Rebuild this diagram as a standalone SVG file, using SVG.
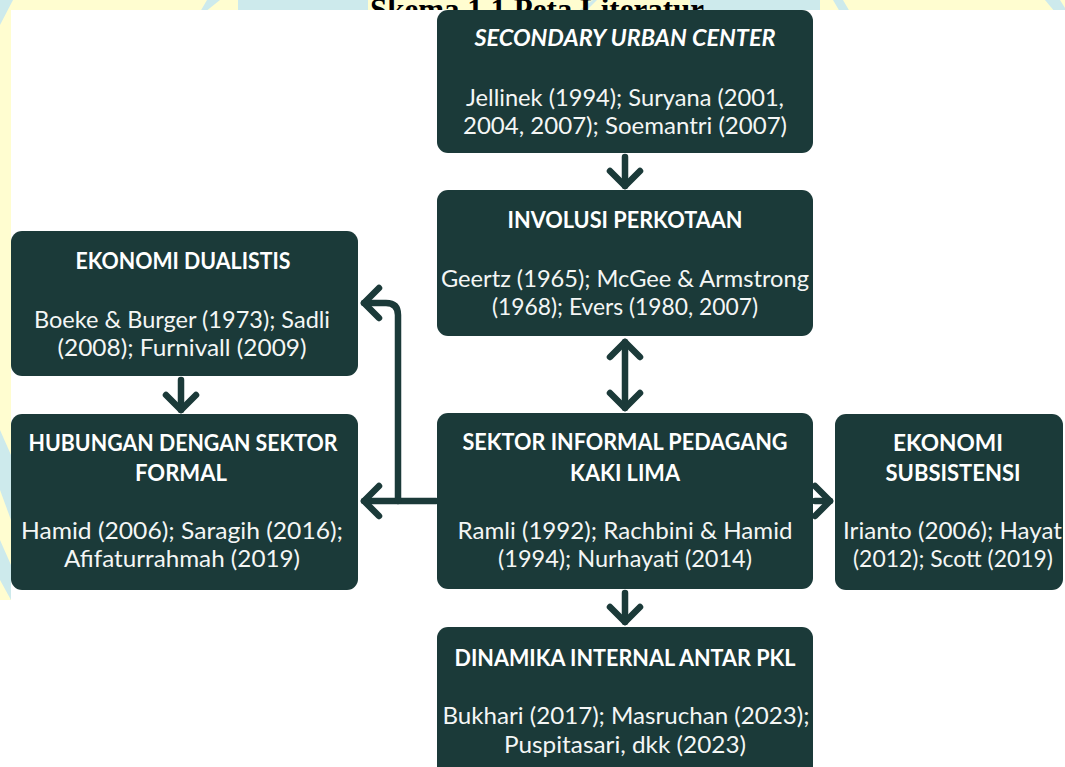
<svg xmlns="http://www.w3.org/2000/svg" width="1065" height="767" viewBox="0 0 1065 767">
  <defs>
    <style>
      .node { fill: #1b3a39; }
      .title { font-family: Lato, Roboto, sans-serif; font-weight: 700; font-size: 22px; fill: #ffffff; text-anchor: middle; }
      .body { font-family: Lato, Roboto, sans-serif; font-weight: 400; font-size: 23px; fill: #f4f6f5; text-anchor: middle; }
      .conn { fill: none; stroke: #1b3a39; stroke-width: 6.5; stroke-linecap: round; stroke-linejoin: round; }
      .yel { fill: #fffdd0; }
      .cy { fill: #cdeaec; }
    </style>
    <marker id="chev" viewBox="-5 -5 25 40" markerWidth="25" markerHeight="40" refX="15" refY="15" markerUnits="userSpaceOnUse" orient="auto-start-reverse">
      <path d="M0,0 L15,15 L0,30" fill="none" stroke="#1b3a39" stroke-width="6.5" stroke-linecap="round" stroke-linejoin="round"/>
    </marker>
    <clipPath id="topclip">
      <rect x="0" y="0" width="1065" height="10"/>
    </clipPath>
  </defs>

  <!-- background page -->
  <rect x="0" y="0" width="1065" height="767" class="yel"/>
  <polygon class="cy" points="0,0 13,0 0,25"/>
  <polygon class="cy" points="207,0 220,0 205,12 200,12"/>
  <polygon class="cy" points="238,0 820,0 820,12 238,12"/>
  <polygon class="yel" points="368,0 690,0 690,12 368,12"/>
  <polygon class="cy" points="577,12 593,0 597,0 585,12"/>
  <polygon class="cy" points="833,0 843,0 850,12 840,12"/>
  <polygon class="cy" points="1045,0 1060,0 1065,8 1065,12 1055,12"/>
  <polygon class="cy" points="0,430 11,455 11,520 0,490"/>
  <polygon class="cy" points="0,540 11,565 11,600 0,580"/>
  <rect x="11" y="10" width="1054" height="757" fill="#ffffff"/>
  <rect x="0" y="600" width="11" height="167" fill="#ffffff"/>

  <text x="537" y="20" clip-path="url(#topclip)" font-family="'Liberation Serif', 'Times New Roman', serif" font-weight="700" font-size="31" fill="#000000" text-anchor="middle">Skema 1.1 Peta Literatur</text>

  <!-- connectors -->
  <g id="connectors">
    <path class="conn" d="M625,157 V186" marker-end="url(#chev)"/>
    <path class="conn" d="M625,342 V408" marker-start="url(#chev)" marker-end="url(#chev)"/>
    <path class="conn" d="M625,593 V622" marker-end="url(#chev)"/>
    <path class="conn" d="M181,380 V410" marker-end="url(#chev)"/>
    <path class="conn" d="M815,501 H830" marker-end="url(#chev)"/>
    <path class="conn" d="M436,501 H364" marker-end="url(#chev)"/>
    <path class="conn" d="M398,501 V315 Q398,303 386,303 H364" marker-end="url(#chev)"/>
  </g>

  <g id="node-secondary-urban-center">
    <rect class="node" x="437" y="10" width="376" height="143" rx="11"/>
    <text class="title" x="625" y="46" font-style="italic" textLength="301" lengthAdjust="spacingAndGlyphs">SECONDARY URBAN CENTER</text>
    <text class="body" x="625" y="106" textLength="318" lengthAdjust="spacingAndGlyphs">Jellinek (1994); Suryana (2001,</text>
    <text class="body" x="625" y="134" textLength="324" lengthAdjust="spacingAndGlyphs">2004, 2007); Soemantri (2007)</text>
  </g>

  <g id="node-involusi-perkotaan">
    <rect class="node" x="437" y="190" width="376" height="146" rx="11"/>
    <text class="title" x="625" y="228" textLength="235" lengthAdjust="spacingAndGlyphs">INVOLUSI PERKOTAAN</text>
    <text class="body" x="625" y="287" textLength="368" lengthAdjust="spacingAndGlyphs">Geertz (1965); McGee &amp; Armstrong</text>
    <text class="body" x="625" y="315" textLength="266" lengthAdjust="spacingAndGlyphs">(1968); Evers (1980, 2007)</text>
  </g>

  <g id="node-ekonomi-dualistis">
    <rect class="node" x="11" y="231" width="347" height="145" rx="11"/>
    <text class="title" x="183" y="269" textLength="215" lengthAdjust="spacingAndGlyphs">EKONOMI DUALISTIS</text>
    <text class="body" x="182" y="328" textLength="296" lengthAdjust="spacingAndGlyphs">Boeke &amp; Burger (1973); Sadli</text>
    <text class="body" x="182" y="356" textLength="249" lengthAdjust="spacingAndGlyphs">(2008); Furnivall (2009)</text>
  </g>

  <g id="node-hubungan-sektor-formal">
    <rect class="node" x="11" y="414" width="347" height="176" rx="11"/>
    <text class="title" x="183" y="451" textLength="309" lengthAdjust="spacingAndGlyphs">HUBUNGAN DENGAN SEKTOR</text>
    <text class="title" x="181" y="481" textLength="92" lengthAdjust="spacingAndGlyphs">FORMAL</text>
    <text class="body" x="182" y="539" textLength="322" lengthAdjust="spacingAndGlyphs">Hamid (2006); Saragih (2016);</text>
    <text class="body" x="182" y="567" textLength="236" lengthAdjust="spacingAndGlyphs">Afifaturrahmah (2019)</text>
  </g>

  <g id="node-sektor-informal-pkl">
    <rect class="node" x="437" y="413" width="376" height="176" rx="11"/>
    <text class="title" x="625" y="450" textLength="325" lengthAdjust="spacingAndGlyphs">SEKTOR INFORMAL PEDAGANG</text>
    <text class="title" x="625" y="481" textLength="110" lengthAdjust="spacingAndGlyphs">KAKI LIMA</text>
    <text class="body" x="625" y="539" textLength="335" lengthAdjust="spacingAndGlyphs">Ramli (1992); Rachbini &amp; Hamid</text>
    <text class="body" x="625" y="567" textLength="254" lengthAdjust="spacingAndGlyphs">(1994); Nurhayati (2014)</text>
  </g>

  <g id="node-ekonomi-subsistensi">
    <rect class="node" x="835" y="414" width="228" height="176" rx="11"/>
    <text class="title" x="948" y="451" textLength="110" lengthAdjust="spacingAndGlyphs">EKONOMI</text>
    <text class="title" x="953" y="481" textLength="135" lengthAdjust="spacingAndGlyphs">SUBSISTENSI</text>
    <text class="body" x="843" y="539" style="text-anchor:start" textLength="219" lengthAdjust="spacingAndGlyphs">Irianto (2006); Hayat</text>
    <text class="body" x="953" y="567" textLength="200" lengthAdjust="spacingAndGlyphs">(2012); Scott (2019)</text>
  </g>

  <g id="node-dinamika-internal-pkl">
    <rect class="node" x="437" y="627" width="376" height="150" rx="11"/>
    <text class="title" x="625" y="666" textLength="341" lengthAdjust="spacingAndGlyphs">DINAMIKA INTERNAL ANTAR PKL</text>
    <text class="body" x="626" y="724" textLength="367" lengthAdjust="spacingAndGlyphs">Bukhari (2017); Masruchan (2023);</text>
    <text class="body" x="625" y="753" textLength="242" lengthAdjust="spacingAndGlyphs">Puspitasari, dkk (2023)</text>
  </g>
</svg>
